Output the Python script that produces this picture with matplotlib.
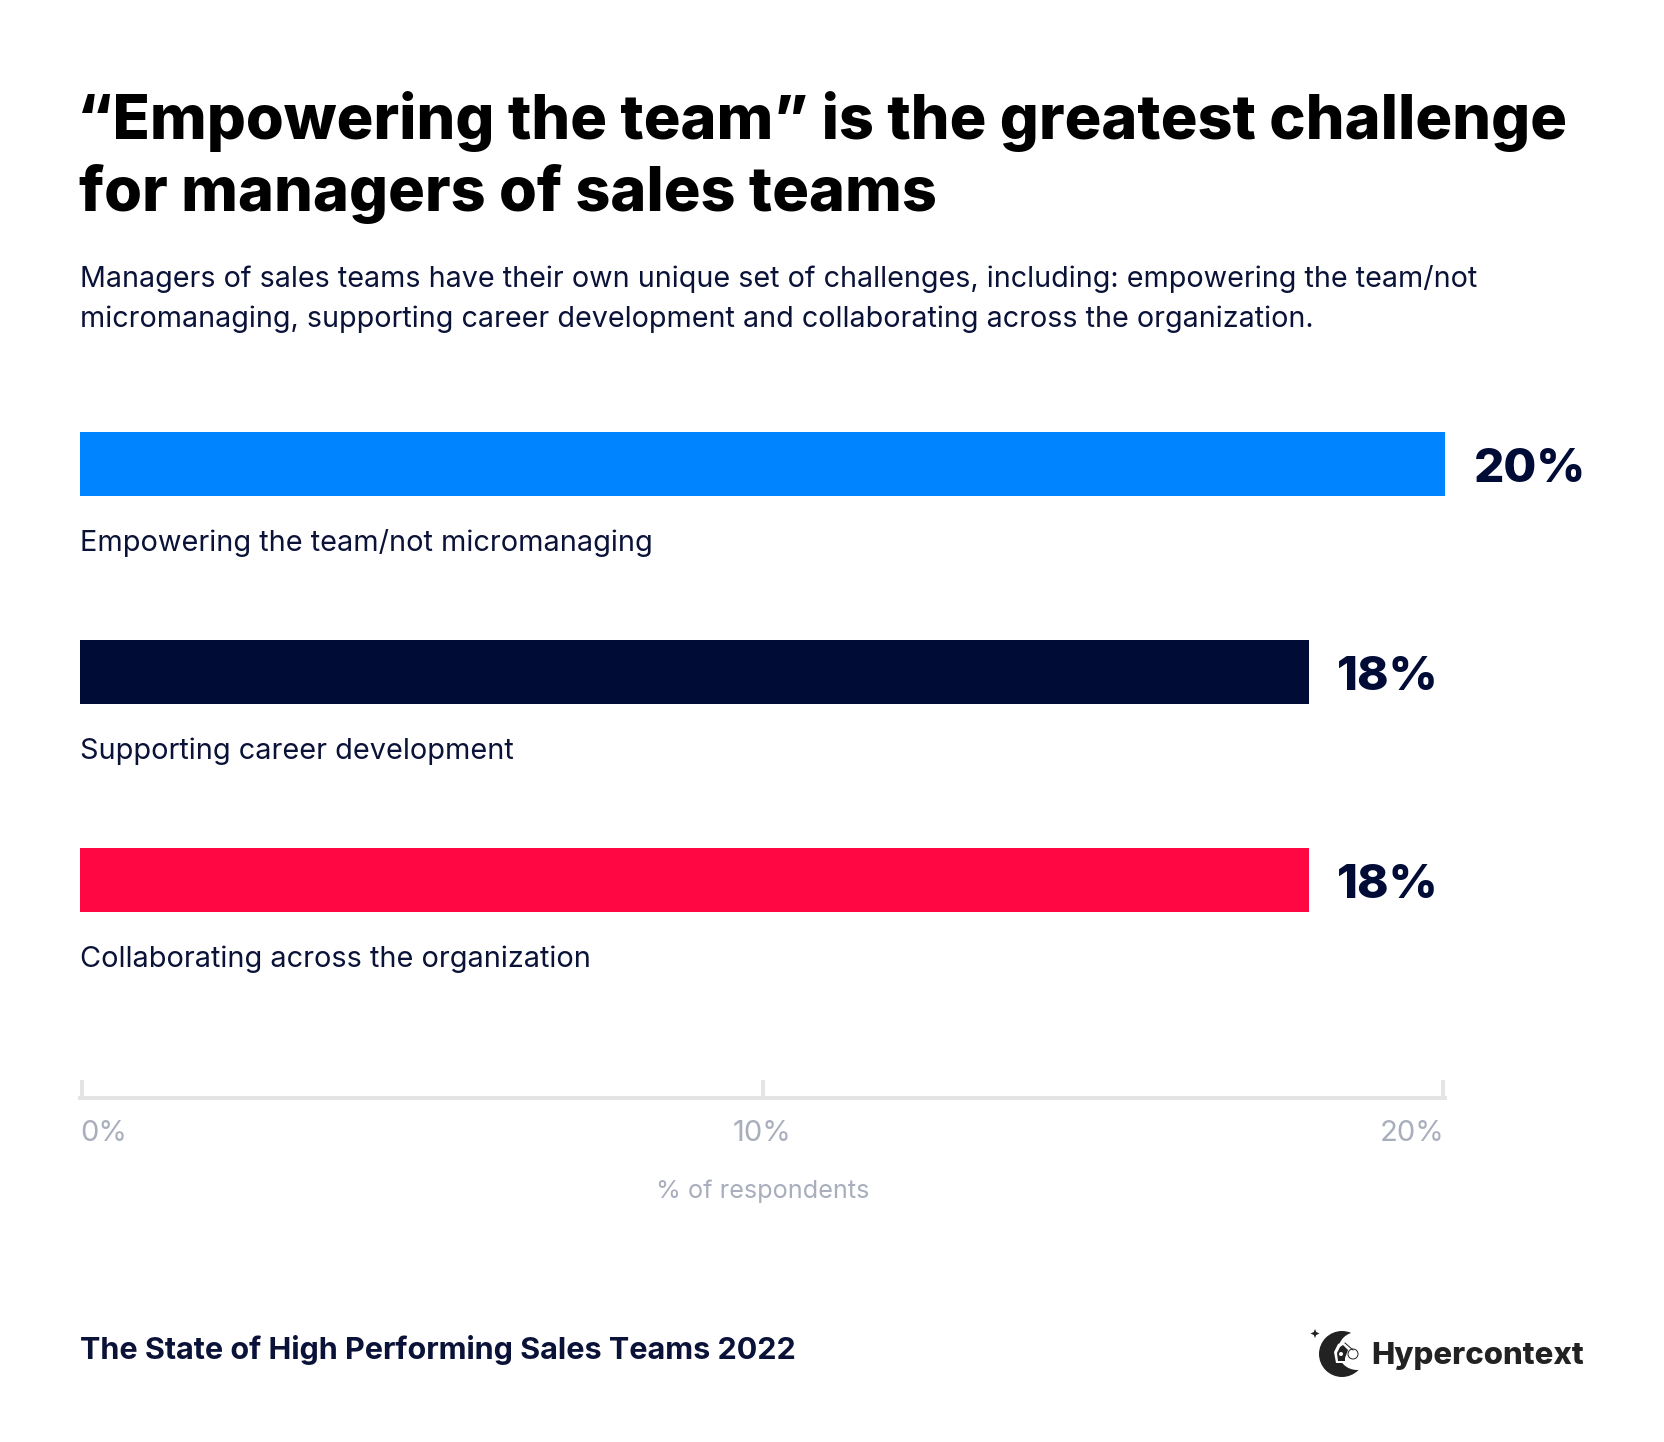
import matplotlib
matplotlib.use("Agg")
import matplotlib.pyplot as plt
from matplotlib.patches import Circle, Polygon
from matplotlib.transforms import ScaledTranslation

W, H = 1664, 1442
DPI = 100

title_lines = ["“Empowering the team” is the greatest challenge", "for managers of sales teams"]
subtitle_lines = ["Managers of sales teams have their own unique set of challenges, including: empowering the team/not",
                  "micromanaging, supporting career development and collaborating across the organization."]
categories = ["Empowering the team/not micromanaging", "Supporting career development", "Collaborating across the organization"]
values = [20, 18, 18]
value_labels = ["20%", "18%", "18%"]
bar_colors = ["#0084FF", "#000B36", "#FF0742"]
tick_values = [0, 10, 20]
tick_labels = ["0%", "10%", "20%"]
axis_label = "% of respondents"
footer = "The State of High Performing Sales Teams 2022"
brand = "Hypercontext"

NAVY = "#0A1238"
GREY = "#A9AEBC"
LINE = "#E4E4E4"

plt.rcParams["font.family"] = ["Inter", "DejaVu Sans"]

fig = plt.figure(figsize=(W / DPI, H / DPI), dpi=DPI, facecolor="white")

def fy(py):
    return 1 - py / H

def fx(px):
    return px / W

for line, base, left in zip(title_lines, [139, 211], [77, 79]):
    fig.text(fx(left), fy(base), line, fontsize=44.1, fontweight=800, color="black", va="baseline", ha="left")
for line, base in zip(subtitle_lines, [287, 327]):
    fig.text(fx(80), fy(base), line, fontsize=20.67, color=NAVY, va="baseline", ha="left")

# plot area: x 80..1445 px, y 360..1098 px
top, bottom = 360, 1098
ax = fig.add_axes([fx(80), fy(bottom), (1445 - 80) / W, (bottom - top) / H])
ax.set_xlim(0, 20)
step = 208
ax.set_ylim((bottom - 464) / step, (top - 464) / step)
ys = list(range(len(categories)))
ax.barh(ys, values, height=64 / step, color=bar_colors, linewidth=0)

for y, v, lab, cat in zip(ys, values, value_labels, categories):
    ax.annotate(lab, xy=(v, y), xytext=(20.5, -18 * 72 / DPI), textcoords="offset points", fontsize=34.3, fontweight=800,
                color="#000B36", va="baseline", ha="left")
    ax.annotate(cat, xy=(0, y), xytext=(0, -87 * 72 / DPI), textcoords="offset points", fontsize=20.8,
                color=NAVY, va="baseline", ha="left")

for s in ["top", "left", "right"]:
    ax.spines[s].set_visible(False)
ax.spines["bottom"].set_linewidth(4 * 72 / DPI)
ax.spines["bottom"].set_color(LINE)
ax.set_yticks([])
ax.set_xticks(tick_values)
ax.set_xticklabels(tick_labels, fontsize=21, color=GREY)
ax.tick_params(axis="x", direction="in", length=18 * 72 / DPI, width=4 * 72 / DPI, color=LINE, pad=16)
ticks = ax.xaxis.get_major_ticks()
for tick, dx_px in zip(ticks, [2, 0, -2]):
    line = tick.tick1line
    line.set_transform(line.get_transform() + ScaledTranslation(dx_px / DPI, 0, fig.dpi_scale_trans))
lbls = ax.get_xticklabels()
lbls[0].set_ha("left")
lbls[1].set_ha("center")
lbls[2].set_ha("right")
ax.set_xlabel(axis_label, fontsize=18.2, color=GREY, labelpad=23)

fig.text(fx(80), fy(1359), footer, fontsize=22, fontweight="bold", color=NAVY, va="baseline", ha="left")

# brand mark
logo = fig.add_axes([0, 0, 1, 1], facecolor="none")
logo.set_xlim(0, W)
logo.set_ylim(H, 0)
logo.axis("off")
INK = "#222222"
logo.add_patch(Circle((1342, 1354), 23, color=INK, lw=0))
logo.add_patch(Circle((1357, 1351), 19, color="white", lw=0))
logo.add_patch(Polygon([(1334, 1352), (1338, 1344), (1343, 1342), (1350, 1349), (1346, 1357), (1347, 1363), (1336, 1363)], color="white", lw=0))
logo.add_patch(Polygon([(1337, 1353), (1340, 1347), (1343, 1345), (1348, 1350), (1345, 1358), (1345, 1361), (1338, 1361)], color=INK, lw=0))
logo.add_patch(Circle((1341, 1354), 2, color="white", lw=0))
logo.add_patch(Circle((1353, 1354), 5, facecolor="white", edgecolor=INK, lw=0.7))
logo.plot([1345, 1353], [1343, 1350], color=INK, lw=0.7)
logo.add_patch(Polygon([(1315, 1329), (1316.2, 1332), (1319.5, 1333.5), (1316.2, 1335), (1315, 1338), (1313.8, 1335), (1310.5, 1333.5), (1313.8, 1332)], color=INK, lw=0))
logo.text(1371, 1364, brand, fontsize=22.4, fontweight=800, color=INK, va="baseline", ha="left")

fig.savefig("out.png", dpi=DPI, facecolor="white")
